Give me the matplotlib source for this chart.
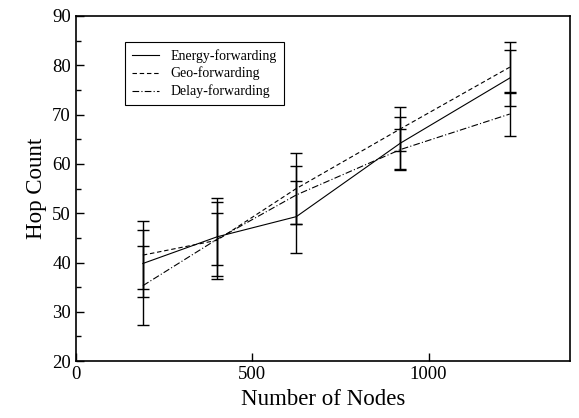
import matplotlib

matplotlib.use("Agg")
import matplotlib.pyplot as plt
from matplotlib.ticker import MultipleLocator

plt.rcParams["font.family"] = ["Liberation Serif", "DejaVu Serif"]

NODES = [190, 400, 625, 920, 1230]

ENERGY = [39.8, 45.2, 49.3, 64.2, 77.4]
ENERGY_ERR = [6.7, 7.9, 7.3, 5.3, 5.6]

GEO = [41.5, 44.5, 55.0, 67.1, 79.6]
GEO_ERR = [6.9, 7.8, 7.2, 4.4, 5.2]

DELAY = [35.3, 44.7, 53.7, 62.9, 70.1]
DELAY_ERR = [8.0, 5.3, 5.9, 4.2, 4.4]

SERIES = [
    ("Energy-forwarding", ENERGY, ENERGY_ERR, "-"),
    ("Geo-forwarding", GEO, GEO_ERR, (0, (4, 2.5))),
    ("Delay-forwarding", DELAY, DELAY_ERR, (0, (6, 2, 1, 2))),
]

fig = plt.figure(figsize=(5.79, 4.18), dpi=100)
ax = fig.add_axes([0.131, 0.136, 0.853, 0.826])

for label, ys, errs, ls in SERIES:
    ax.errorbar(NODES, ys, yerr=errs, color="black", lw=0.8, ls=ls,
                elinewidth=1.0, capsize=4.5, capthick=1.0, label=label)

ax.set_xlim(0, 1400)
ax.set_ylim(20, 90)
ax.xaxis.set_major_locator(MultipleLocator(500))
ax.yaxis.set_major_locator(MultipleLocator(10))
ax.yaxis.set_minor_locator(MultipleLocator(5))
ax.tick_params(which="both", direction="in", labelsize=13.5, width=1.0)
ax.tick_params(which="major", length=6)
ax.tick_params(which="minor", length=3.5)
for s in ax.spines.values():
    s.set_linewidth(1.2)

ax.set_xlabel("Number of Nodes", fontsize=16.5)
ax.set_ylabel("Hop Count", fontsize=16.5)

# legend without the error-bar glyphs
handles = [plt.Line2D([], [], color="black", lw=0.8, ls=ls) for _, _, _, ls in SERIES]
leg = ax.legend(handles, [s[0] for s in SERIES], loc="upper left",
                bbox_to_anchor=(0.085, 0.945), fontsize=10, fancybox=False,
                framealpha=1, edgecolor="black", handlelength=2.0,
                borderpad=0.5, labelspacing=0.3)
leg.get_frame().set_linewidth(0.8)

fig.savefig("out.png", dpi=100)
